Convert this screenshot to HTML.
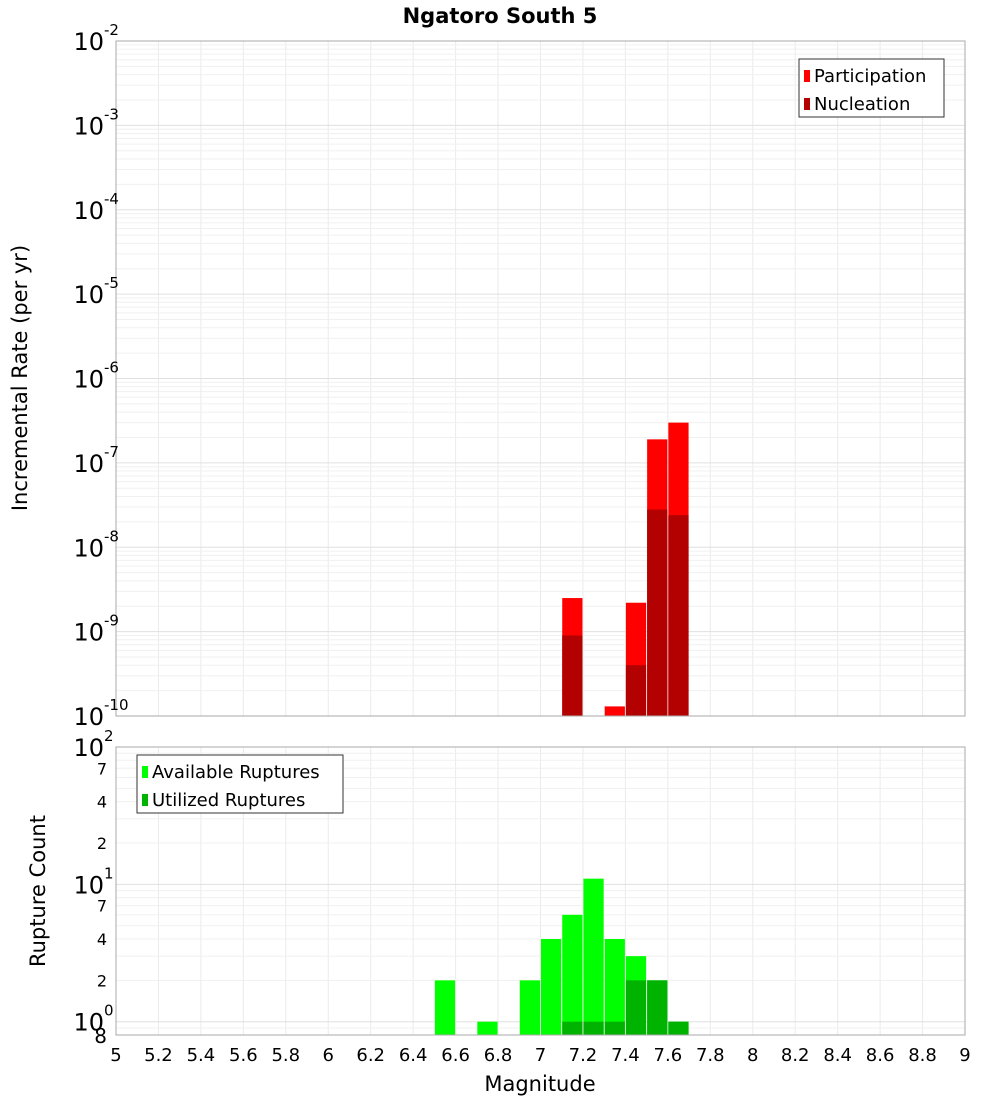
<!DOCTYPE html>
<html><head><meta charset="utf-8"><style>
body{margin:0;background:#fff}
svg text{font-family:"DejaVu Sans","Liberation Sans",sans-serif;fill:#000}
</style></head><body>
<svg id="chart" width="1000" height="1100" xmlns="http://www.w3.org/2000/svg"></svg>
<script>
const xTicks=[5,5.2,5.4,5.6,5.8,6,6.2,6.4,6.6,6.8,7,7.2,7.4,7.6,7.8,8,8.2,8.4,8.6,8.8,9];
const rateBins=[7.15,7.35,7.45,7.55,7.65];
const participation=[2.5e-9,1.3e-10,2.2e-9,1.9e-7,3.0e-7];
const nucBins=[7.15,7.45,7.55,7.65];
const nucleation=[9e-10,4e-10,2.8e-8,2.4e-8];
const countBins=[6.55,6.75,6.95,7.05,7.15,7.25,7.35,7.45,7.55,7.65];
const available=[2,1,2,4,6,11,4,3,2,1];
const utilBins=[7.15,7.25,7.35,7.45,7.55,7.65];
const utilized=[1,1,1,2,2,1];
const topExps=[-2,-3,-4,-5,-6,-7,-8,-9,-10];
const botMinorLabels=[7,4,2];

const NS="http://www.w3.org/2000/svg";
const svg=document.getElementById('chart');
function mk(tag,attrs,parent){const e=document.createElementNS(NS,tag);for(const k in attrs)e.setAttribute(k,attrs[k]);(parent||svg).appendChild(e);return e;}
const X0=116,X1=965;
const x=v=>X0+(v-5)/4*(X1-X0);
const T0=41,T1=716;
const yTop=v=>T0+(-2-Math.log10(v))/8*(T1-T0);
const B0=747,B1=1035;
const bl=Math.log10(0.8);
const yBot=v=>B0+(2-Math.log10(v))/(2-bl)*(B1-B0);
const bw=(X1-X0)/40;

// grids
function grid(y0,y1,yf,lo,hi,minorFrom){
  for(const t of xTicks){const l=mk('line',{x1:x(t),x2:x(t),y1:y0,y2:y1,stroke:'#ebebeb'});}
  for(let e=lo;e<hi;e++)for(let m=1;m<10;m++){const v=m*Math.pow(10,e);const yy=yf(v);if(yy<y0||yy>y1)continue;const l=mk('line',{x1:X0,x2:X1,y1:yy,y2:yy,stroke:m==1?'#e0e0e0':'#f0f0f0'});}
}
grid(T0,T1,yTop,-10,-2);
grid(B0,B1,yBot,-1,2);
mk('line',{x1:X0,x2:X1,y1:yBot(0.9),y2:yBot(0.9),stroke:'#f0f0f0'});

// top bars
participation.forEach((v,i)=>{const r=mk('rect',{x:x(rateBins[i]-0.05)+0.5,y:yTop(v),width:bw-1,height:T1-yTop(v),fill:'#ff0000'});});
nucleation.forEach((v,i)=>{const r=mk('rect',{x:x(nucBins[i]-0.05)+0.5,y:yTop(v),width:bw-1,height:T1-yTop(v),fill:'#b30000'});});
// bottom bars
available.forEach((v,i)=>{const r=mk('rect',{x:x(countBins[i]-0.05)+0.5,y:yBot(v),width:bw-1,height:B1-yBot(v),fill:'#00ff00'});});
utilized.forEach((v,i)=>{const r=mk('rect',{x:x(utilBins[i]-0.05)+0.5,y:yBot(v),width:bw-1,height:B1-yBot(v),fill:'#00b300'});});

// frames
let f=mk('rect',{x:X0,y:T0,width:X1-X0,height:T1-T0,fill:'none',stroke:'#aaa'});
f=mk('rect',{x:X0,y:B0,width:X1-X0,height:B1-B0,fill:'none',stroke:'#aaa'});

// top y labels
topExps.forEach(e=>{const yy=yTop(Math.pow(10,e));const t=mk('text',{x:104,y:yy+9,'text-anchor':'end','font-size':24});t.textContent='10';const s=mk('text',{x:104,y:yy-6,'font-size':15});s.textContent=String(e);});
// bottom y labels
[[2,'2'],[1,'1'],[0,'0']].forEach(([e,s])=>{const yy=yBot(Math.pow(10,e));const t=mk('text',{x:104,y:yy+9,'text-anchor':'end','font-size':24});t.textContent='10';const u=mk('text',{x:104,y:yy-6,'font-size':15});u.textContent=s;});
[0,1].forEach(e=>botMinorLabels.forEach(m=>{const t=mk('text',{x:107,y:yBot(m*Math.pow(10,e))+6,'text-anchor':'end','font-size':16});t.textContent=m;}));
let t8=mk('text',{x:107,y:B1+8,'text-anchor':'end','font-size':20});t8.textContent='8';

// x labels
xTicks.forEach(v=>{const t=mk('text',{x:x(v),y:1061,'text-anchor':'middle','font-size':18});t.textContent=String(v);});

let tt=mk('text',{x:500,y:23,'text-anchor':'middle','font-size':21,'font-weight':'bold'});tt.textContent='Ngatoro South 5';
tt=mk('text',{x:540,y:1091,'text-anchor':'middle','font-size':21});tt.textContent='Magnitude';
tt=mk('text',{x:0,y:0,'text-anchor':'middle','font-size':21,transform:'translate(27,378) rotate(-90)'});tt.textContent='Incremental Rate (per yr)';
tt=mk('text',{x:0,y:0,'text-anchor':'middle','font-size':21,transform:'translate(45,891) rotate(-90)'});tt.textContent='Rupture Count';

// legends
function legend(lx,ly,w,items,name){const g=mk('g',{});mk('rect',{x:lx,y:ly,width:w,height:58,fill:'#fff',stroke:'#333'},g);items.forEach(([c,l],i)=>{mk('rect',{x:lx+5,y:ly+11+i*28,width:6,height:12,fill:c},g);const t=mk('text',{x:lx+15,y:ly+23+i*28,'font-size':18},g);t.textContent=l;});}
legend(799,59,145,[['#ff0000','Participation'],['#b30000','Nucleation']],'rate-legend');
legend(137,755,206,[['#00ff00','Available Ruptures'],['#00b300','Utilized Ruptures']],'count-legend');
</script>
</body></html>
